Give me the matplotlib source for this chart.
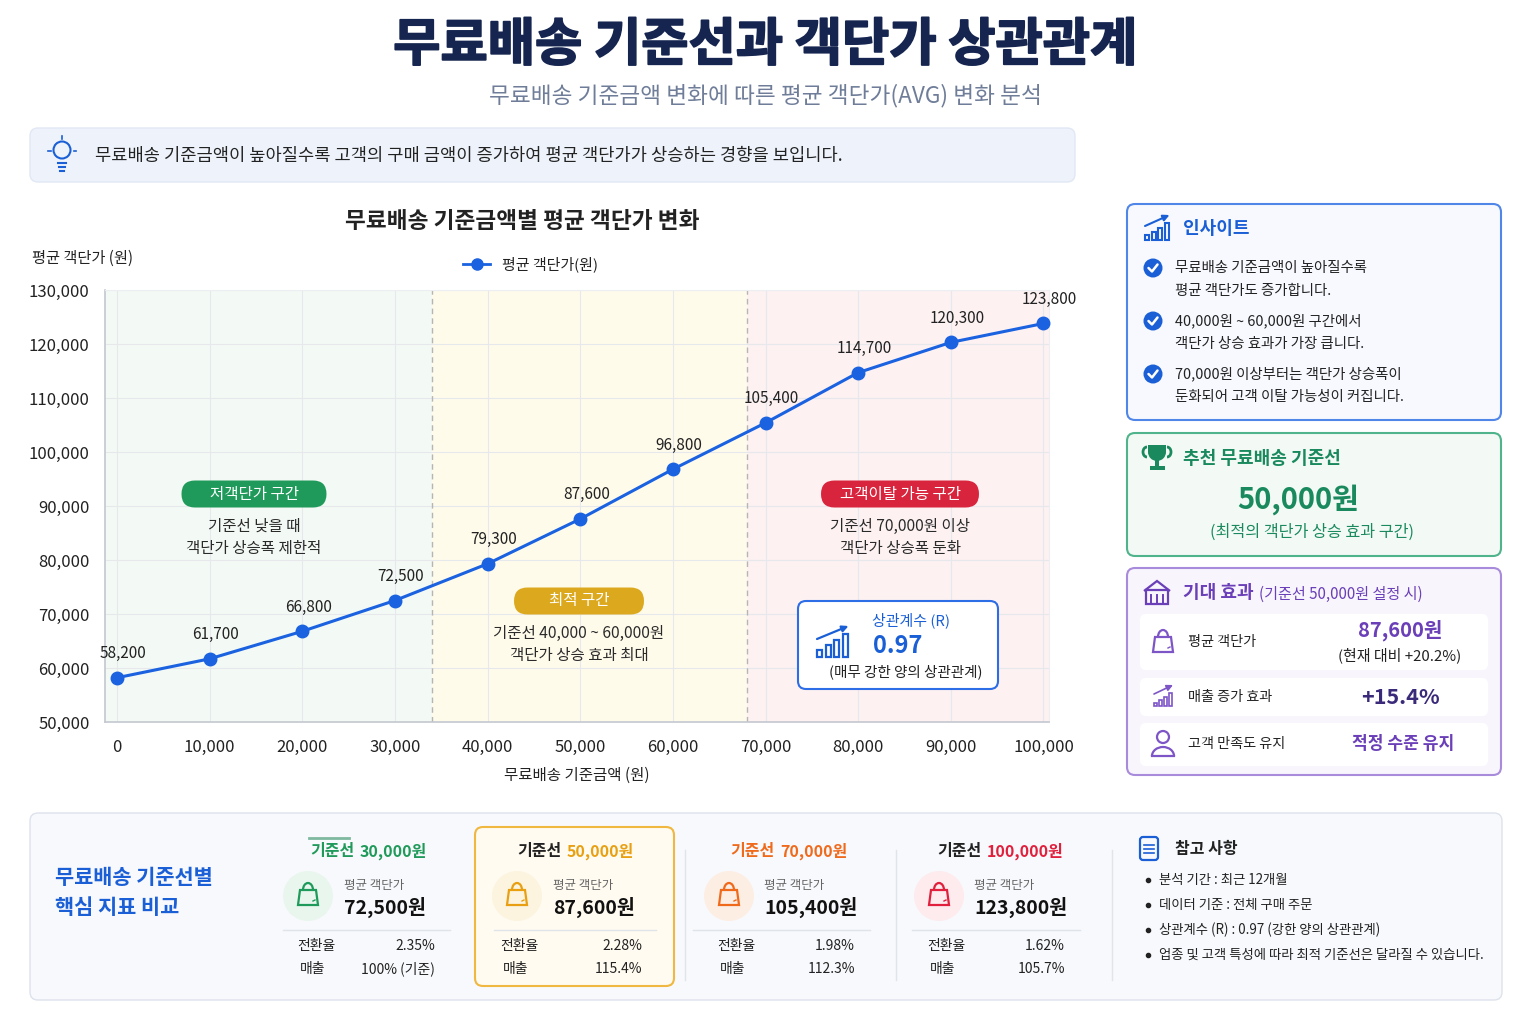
import matplotlib
matplotlib.use("Agg")
import matplotlib.pyplot as plt
import matplotlib.patheffects as pe
from matplotlib.patches import FancyBboxPatch, Circle, Polygon, Arc, Wedge, Rectangle
from matplotlib.ticker import FuncFormatter

plt.rcParams['font.family'] = ['Noto Sans CJK KR', 'DejaVu Sans']

# ---------------- data ----------------
thresholds = [0, 10000, 20000, 30000, 40000, 50000, 60000, 70000, 80000, 90000, 100000]
avg_order = [58200, 61700, 66800, 72500, 79300, 87600, 96800, 105400, 114700, 120300, 123800]
zone_edges = [34000, 68000]
x_ticks = [0, 10000, 20000, 30000, 40000, 50000, 60000, 70000, 80000, 90000, 100000]
y_ticks = [50000, 60000, 70000, 80000, 90000, 100000, 110000, 120000, 130000]
corr_r = 0.97

card_titles = ["30,000원", "50,000원", "70,000원", "100,000원"]
card_avg = ["72,500원", "87,600원", "105,400원", "123,800원"]
card_conv = ["2.35%", "2.28%", "1.98%", "1.62%"]
card_sales = ["100% (기준)", "115.4%", "112.3%", "105.7%"]

insights = [("무료배송 기준금액이 높아질수록", "평균 객단가도 증가합니다."),
            ("40,000원 ~ 60,000원 구간에서", "객단가 상승 효과가 가장 큽니다."),
            ("70,000원 이상부터는 객단가 상승폭이", "둔화되어 고객 이탈 가능성이 커집니다.")]
notes = ["분석 기간 : 최근 12개월", "데이터 기준 : 전체 구매 주문",
         "상관계수 (R) : 0.97 (강한 양의 상관관계)",
         "업종 및 고객 특성에 따라 최적 기준선은 달라질 수 있습니다."]

# ---------------- colours ----------------
NAVY = "#15254f"
BLUE = "#1a5fd6"
LINE = "#1a62e0"
GREEN = "#1f9a5a"
GOLD = "#dca91e"
RED = "#d8243c"
PURPLE = "#6a3fb8"
DARK = "#222222"

fig = plt.figure(figsize=(15.36, 10.24), dpi=100)
fig.patch.set_facecolor("white")

bg = fig.add_axes([0, 0, 1, 1], zorder=0)
bg.set_xlim(0, 1536); bg.set_ylim(1024, 0); bg.axis("off")

ax = fig.add_axes([105/1536, (1024-722)/1024, 944/1536, 432/1024], zorder=2)

fg = fig.add_axes([0, 0, 1, 1], zorder=3)
fg.set_xlim(0, 1536); fg.set_ylim(1024, 0); fg.axis("off")
fg.patch.set_alpha(0)


def rbox(a, x0, y0, x1, y1, fc, ec, lw=1.2, r=10, z=1):
    p = FancyBboxPatch((x0, y0), x1 - x0, y1 - y0,
                       boxstyle=f"round,pad=0,rounding_size={r}",
                       fc=fc, ec=ec, lw=lw, zorder=z)
    a.add_patch(p)
    return p


def txt(a, x, y, s, size=10, color=DARK, ha="left", weight="normal", va="center", z=5):
    return a.text(x, y, s, fontsize=size, color=color, ha=ha, va=va,
                  fontweight=weight, zorder=z)


def bag(a, cx, cy, color, lw=1.6):
    a.add_patch(Polygon([(cx-8, cy-4), (cx+8, cy-4), (cx+10, cy+11), (cx-10, cy+11)],
                        closed=True, fill=False, ec=color, lw=lw, zorder=6))
    a.add_patch(Arc((cx, cy-4), 10, 14, theta1=180, theta2=360, ec=color, lw=lw, zorder=6))
    a.plot([cx+5, cx+7], [cy+7, cy+6], color=color, lw=1.0, zorder=6)


def bars_icon(a, x0, ybase, color, w=5, gap=3, heights=(6, 10, 14, 19), lw=1.6, arrow=True):
    for i, h in enumerate(heights):
        a.add_patch(Rectangle((x0 + i*(w+gap), ybase - h), w, h, fill=False,
                              ec=color, lw=lw, zorder=6))
    if arrow:
        xe = x0 + 3*(w+gap) + w
        a.annotate("", xy=(xe + 1, ybase - max(heights) - 8),
                   xytext=(x0, ybase - heights[1] - 6),
                   arrowprops=dict(arrowstyle="-|>", color=color, lw=lw,
                                   mutation_scale=9, shrinkA=0, shrinkB=0), zorder=6)


def check(a, cx, cy):
    a.add_patch(Circle((cx, cy), 9.5, fc="#1a5fd6", ec="none", zorder=6))
    a.plot([cx-4.5, cx-1, cx+4.5], [cy, cy+3.5, cy-3.5], color="white", lw=1.8,
           zorder=7, solid_capstyle="round")

# ---------------- header ----------------
t = txt(fg, 765, 45, "무료배송 기준선과 객단가 상관관계", size=37, color=NAVY, ha="center", weight="bold")
t.set_path_effects([pe.withStroke(linewidth=1.3, foreground=NAVY)])
txt(fg, 765, 96, "무료배송 기준금액 변화에 따른 평균 객단가(AVG) 변화 분석", size=16.3,
    color="#6f7d99", ha="center")

rbox(bg, 30, 128, 1075, 182, "#eef3fb", "#e1e8f4", lw=1, r=8)
# lightbulb
fg.add_patch(Circle((62, 150), 8.5, fill=False, ec=BLUE, lw=1.5, zorder=6))
fg.plot([58, 66], [163, 163], color=BLUE, lw=1.5, zorder=6)
fg.plot([59, 65], [167, 167], color=BLUE, lw=1.5, zorder=6)
fg.plot([60, 64], [171, 171], color=BLUE, lw=1.5, zorder=6)
fg.plot([62, 62], [136, 138.5], color=BLUE, lw=1.2, zorder=6)
fg.plot([48, 50.5], [151, 151], color=BLUE, lw=1.2, zorder=6)
fg.plot([73.5, 76], [151, 151], color=BLUE, lw=1.2, zorder=6)
txt(fg, 95, 156, "무료배송 기준금액이 높아질수록 고객의 구매 금액이 증가하여 평균 객단가가 상승하는 경향을 보입니다.",
    size=12.7, color=DARK)

# ---------------- chart ----------------
txt(fg, 522, 221, "무료배송 기준금액별 평균 객단가 변화", size=16.3, color=DARK, ha="center", weight="bold")
txt(fg, 32, 258, "평균 객단가 (원)", size=11, color=DARK)
fg.plot([463, 490], [264, 264], color=LINE, lw=2, zorder=6)
fg.plot([476.5], [264], "o", color=LINE, ms=8, zorder=7)
txt(fg, 502, 264, "평균 객단가(원)", size=10.8, color=DARK)

xmin, xmax = -1300, 100600
ax.set_xlim(xmin, xmax)
ax.set_ylim(y_ticks[0], y_ticks[-1])
ax.axvspan(xmin, zone_edges[0], color="#f3f9f4", zorder=0, lw=0)
ax.axvspan(zone_edges[0], zone_edges[1], color="#fffbeb", zorder=0, lw=0)
ax.axvspan(zone_edges[1], xmax, color="#fdf1f2", zorder=0, lw=0)
for e in zone_edges:
    ax.axvline(e, color="#b5b5b5", lw=1, ls=(0, (4, 3)), zorder=1)
ax.set_xticks(x_ticks)
ax.set_yticks(y_ticks)
ax.grid(True, color="#e6e8ec", lw=0.8, zorder=0.5)
ax.set_axisbelow(True)
fmt = FuncFormatter(lambda v, p: f"{int(v):,}")
ax.xaxis.set_major_formatter(fmt)
ax.yaxis.set_major_formatter(fmt)
ax.tick_params(axis="both", length=0, labelsize=12, labelcolor=DARK)
ax.tick_params(axis="x", pad=12)
ax.tick_params(axis="y", pad=11)
for s in ["top", "right"]:
    ax.spines[s].set_color("#eceef2")
    ax.spines[s].set_linewidth(0.8)
for s in ["left", "bottom"]:
    ax.spines[s].set_color("#c4c8d0")
    ax.spines[s].set_linewidth(1.2)
ax.set_xlabel("무료배송 기준금액 (원)", fontsize=11.2, color=DARK, labelpad=8)

ax.plot(thresholds, avg_order, color=LINE, lw=2.2, marker="o", ms=9,
        mfc=LINE, mec=LINE, zorder=4, clip_on=False)
for xv, yv in zip(thresholds, avg_order):
    ax.annotate(f"{yv:,}", (xv, yv), textcoords="offset pixels", xytext=(6, 24),
                ha="center", va="center", fontsize=11, color=DARK, zorder=5,
                annotation_clip=False)

# zone badges
def badge(cx, cy, w, label, color, lines):
    rbox(fg, cx - w/2, cy - 13.5, cx + w/2, cy + 13.5, color, "none", lw=0, r=13.5, z=5)
    txt(fg, cx, cy, label, size=11.2, color="white", ha="center", z=6)
    for i, l in enumerate(lines):
        txt(fg, cx, cy + 32 + 22*i, l, size=11.2, color="#2a2a2a", ha="center")

badge(254, 494, 145, "저객단가 구간", GREEN, ["기준선 낮을 때", "객단가 상승폭 제한적"])
badge(579, 601, 130, "최적 구간", GOLD, ["기준선 40,000 ~ 60,000원", "객단가 상승 효과 최대"])
badge(900, 494, 158, "고객이탈 가능 구간", RED, ["기준선 70,000원 이상", "객단가 상승폭 둔화"])

# correlation box
rbox(fg, 798, 601, 998, 689, "white", "#2d6ee6", lw=1.5, r=8, z=4)
bars_icon(fg, 817, 657, BLUE, w=5, gap=3.5, heights=(7, 12, 17, 23), lw=1.6)
txt(fg, 911, 620, "상관계수 (R)", size=10.8, color=BLUE, ha="center")
txt(fg, 873, 646, f"{corr_r:.2f}", size=17, color=BLUE, weight="bold")
txt(fg, 906, 672, "(매무 강한 양의 상관관계)", size=10.5, color=DARK, ha="center")

# ---------------- right panels ----------------
rbox(bg, 1127, 204, 1501, 420, "#f7f9fe", "#4f86e8", lw=1.5, r=8)
bars_icon(fg, 1145, 240, BLUE, w=4, gap=2.5, heights=(5, 8, 12, 17), lw=1.5)
txt(fg, 1183, 229, "인사이트", size=13, color=BLUE, weight="bold")
for i, (l1, l2) in enumerate(insights):
    y = 268 + 53*i
    check(fg, 1153, y)
    txt(fg, 1175, y, l1, size=10.4, color=DARK)
    txt(fg, 1175, y + 23, l2, size=10.4, color=DARK)

rbox(bg, 1127, 433, 1501, 556, "#f3faf6", "#4fb48c", lw=1.5, r=8)
TG = "#1a8a5e"
fg.add_patch(Wedge((1157, 452), 9, 0, 180, fc=TG, ec="none", zorder=6))
fg.add_patch(Rectangle((1148, 445), 18, 7, fc=TG, ec="none", zorder=6))
fg.add_patch(Arc((1147, 452), 8, 10, theta1=90, theta2=270, ec=TG, lw=2, zorder=6))
fg.add_patch(Arc((1167, 452), 8, 10, theta1=270, theta2=450, ec=TG, lw=2, zorder=6))
fg.add_patch(Rectangle((1155, 460), 4, 6, fc=TG, ec="none", zorder=6))
fg.add_patch(Rectangle((1149.5, 466), 15, 4, fc=TG, ec="none", zorder=6))
txt(fg, 1183, 459, "추천 무료배송 기준선", size=13, color=TG, weight="bold")
txt(fg, 1298, 500, "50,000원", size=21, color=TG, weight="bold", ha="center")
txt(fg, 1312, 532, "(최적의 객단가 상승 효과 구간)", size=11.7, color=TG, ha="center")

rbox(bg, 1127, 568, 1501, 775, "#f8f5fd", "#a98bdc", lw=1.5, r=8)
# store icon
fg.add_patch(Rectangle((1146, 590), 22, 14, fill=False, ec=PURPLE, lw=1.6, zorder=6))
fg.add_patch(Polygon([(1144, 591), (1157, 581), (1170, 591)], closed=False, fill=False,
                     ec=PURPLE, lw=1.6, zorder=6))
fg.plot([1151, 1151], [595, 604], color=PURPLE, lw=1.4, zorder=6)
fg.plot([1157, 1157], [595, 604], color=PURPLE, lw=1.4, zorder=6)
fg.plot([1163, 1163], [595, 604], color=PURPLE, lw=1.4, zorder=6)
txt(fg, 1183, 593, "기대 효과", size=13, color=PURPLE, weight="bold")
txt(fg, 1259, 594, "(기준선 50,000원 설정 시)", size=10.9, color=PURPLE)

rbox(bg, 1140, 614, 1488, 670, "white", "none", lw=0, r=6, z=2)
rbox(bg, 1140, 678, 1488, 716, "white", "none", lw=0, r=6, z=2)
rbox(bg, 1140, 723, 1488, 766, "white", "none", lw=0, r=6, z=2)
bag(fg, 1163, 641, "#7d55c7")
txt(fg, 1188, 642, "평균 객단가", size=10.2, color=DARK)
txt(fg, 1400, 630, "87,600원", size=14.5, color=PURPLE, weight="bold", ha="center")
txt(fg, 1400, 655, "(현재 대비 +20.2%)", size=10.8, color=DARK, ha="center")
bars_icon(fg, 1154, 706, "#7d55c7", w=3, gap=2, heights=(3, 6, 9, 13), lw=1.2)
txt(fg, 1188, 697, "매출 증가 효과", size=10.2, color=DARK)
txt(fg, 1400, 697, "+15.4%", size=15.5, color="#3b2a7a", weight="bold", ha="center")
fg.add_patch(Circle((1163, 737), 6, fill=False, ec="#7d55c7", lw=1.6, zorder=6))
fg.add_patch(Arc((1163, 756), 22, 18, theta1=180, theta2=360, ec="#7d55c7", lw=1.6, zorder=6))
fg.plot([1152, 1174], [756, 756], color="#7d55c7", lw=1.6, zorder=6)
txt(fg, 1188, 744, "고객 만족도 유지", size=10.2, color=DARK)
txt(fg, 1403, 744, "적정 수준 유지", size=12.3, color=PURPLE, weight="bold", ha="center")

# ---------------- bottom comparison ----------------
rbox(bg, 30, 813, 1502, 1000, "#f8f9fc", "#dde2ec", lw=1, r=8)
txt(fg, 55, 878, "무료배송 기준선별", size=15, color=BLUE, weight="bold")
txt(fg, 55, 908, "핵심 지표 비교", size=15, color=BLUE, weight="bold")

rbox(bg, 475, 827, 674, 986, "#fffbf0", "#f0b840", lw=1.5, r=8, z=2)
for xv in [685, 896, 1112]:
    bg.plot([xv, xv], [850, 980], color="#e1e4ea", lw=1, zorder=2)

cards = [
    dict(cx=367, pc=GREEN, vc=GREEN, ix=308, tx=344, sep=(283, 450), lx=297, rx=435, cfc="#e9f6ee", ic="#1e9a5a"),
    dict(cx=574, pc=DARK, vc="#e8a012", ix=517, tx=553, sep=(494, 656), lx=500, rx=642, cfc="#fdf4df", ic="#e8a012"),
    dict(cx=787, pc="#f06a1c", vc="#f06a1c", ix=729, tx=764, sep=(693, 870), lx=717, rx=855, cfc="#fdeee4", ic="#f06a1c"),
    dict(cx=1000, pc=DARK, vc="#e0203c", ix=939, tx=974, sep=(912, 1080), lx=927, rx=1065, cfc="#fdebee", ic="#e0203c"),
]
for c, ttl, av, cv, sv in zip(cards, card_titles, card_avg, card_conv, card_sales):
    split = c["cx"] - 18 if len(ttl) > 7 else c["cx"] - 12
    txt(fg, split, 851, "기준선", size=11.5, color=c["pc"], ha="right", weight="bold")
    txt(fg, split + 5, 851, ttl, size=11.5, color=c["vc"], ha="left", weight="bold")
    fg.add_patch(Circle((c["ix"], 896), 25, fc=c["cfc"], ec="none", zorder=4))
    bag(fg, c["ix"], 894, c["ic"])
    txt(fg, c["tx"], 885, "평균 객단가", size=9, color="#666666")
    txt(fg, c["tx"], 907, av, size=14, color="#111111", weight="bold")
    fg.plot(c["sep"], [930, 930], color="#dfe3ea", lw=1, zorder=4)
    txt(fg, c["lx"], 946, "전환율", size=10, color=DARK)
    txt(fg, c["rx"], 946, cv, size=10, color=DARK, ha="right")
    txt(fg, c["lx"] + 3, 969, "매출", size=10, color=DARK)
    txt(fg, c["rx"], 969, sv, size=10, color=DARK, ha="right")
fg.plot([309, 349], [838, 838], color="#7fb9a0", lw=2, zorder=5)

# notes
rbox(fg, 1140, 837, 1158, 860, "none", BLUE, lw=1.6, r=3, z=6)
for yy in [845, 849, 853]:
    fg.plot([1144, 1154], [yy, yy], color=BLUE, lw=1.2, zorder=6)
txt(fg, 1175, 849, "참고 사항", size=11.5, color=DARK, weight="bold")
for i, n in enumerate(notes):
    y = 880 + 25*i
    fg.plot([1148], [y], "o", color=DARK, ms=3, zorder=6)
    txt(fg, 1159, y, n, size=9.6, color=DARK)

fig.savefig("out.png", dpi=100, facecolor="white")
